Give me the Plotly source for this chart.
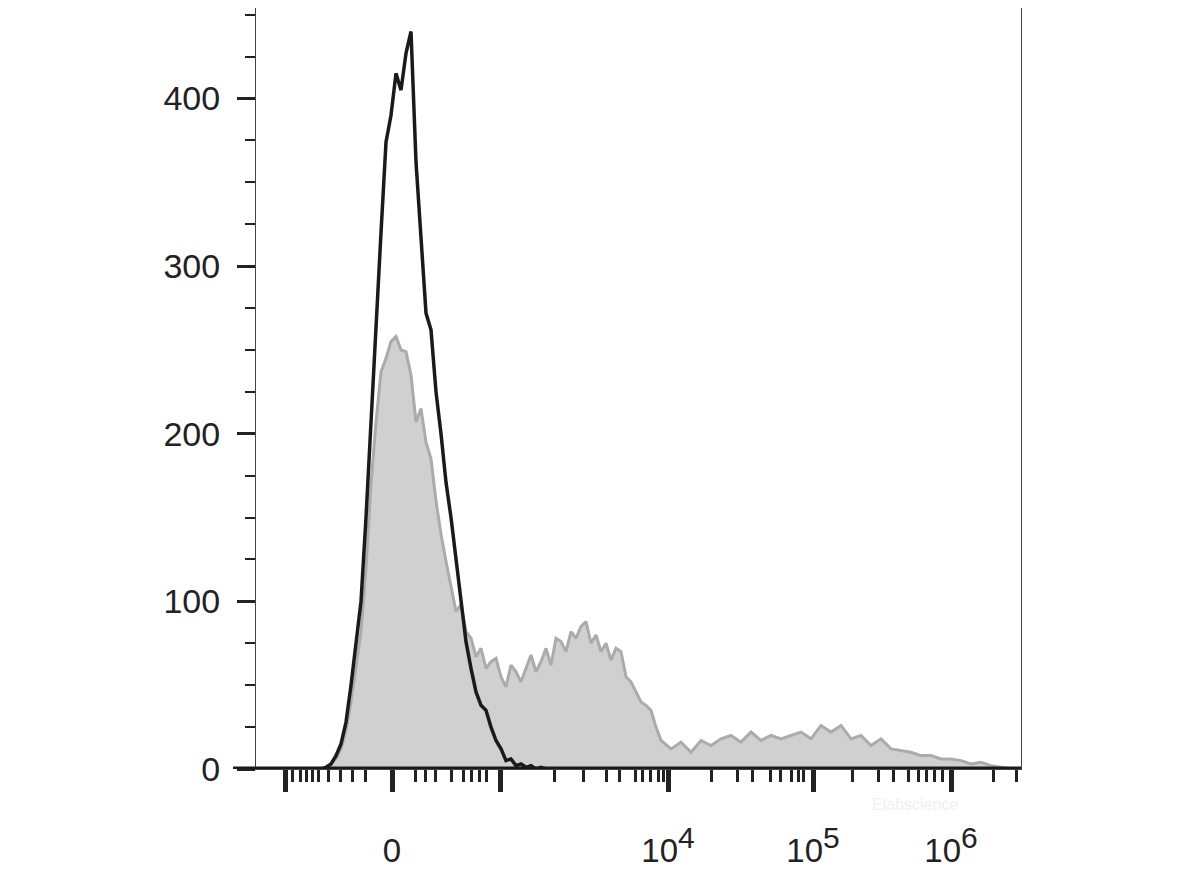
import plotly.graph_objects as go

# channel positions (display scale) and counts
black_x = list(range(320, 550, 5))
black_y = [0, 1, 3, 8, 15, 28, 50, 75, 100, 150, 210, 260, 320, 374, 390, 415, 405, 427, 440,
           362, 320, 272, 262, 225, 200, 171, 150, 124, 100, 76, 60, 46, 38, 35, 25, 17, 12,
           5, 6, 2, 3, 1, 2, 0, 1, 0]

gray_x = list(range(320, 665, 5)) + list(range(670, 1020, 10))
gray_y = [0, 1, 3, 6, 12, 23, 40, 60, 82, 120, 170, 207, 237, 245, 255, 258, 250, 249, 235,
          207, 215, 195, 185, 160, 140, 124, 110, 94, 98, 82, 78, 67, 72, 60, 64, 66, 55, 49,
          62, 58, 52, 60, 68, 58, 64, 72, 62, 78, 76, 70, 82, 78, 85, 88, 75, 80, 70, 75, 65,
          72, 70, 55, 52, 46, 40, 38, 35, 25, 17,
          12, 16, 10, 17, 14, 18, 20, 16, 22, 17, 20, 18, 20, 22, 18, 26, 22, 26, 18, 20, 14,
          18, 12, 11, 10, 8, 8, 6, 6, 5, 3, 4, 2, 1, 0]

major_x = [284, 391, 499, 667, 812, 950]
sup = "<sup><span style='font-size:30px'>{}</span></sup>"
major_lbl = ["", "0", "", "10" + sup.format(4), "10" + sup.format(5), "10" + sup.format(6)]
minor_z = [120, 135, 148, 160, 172, 190, 215, 238, 262, 360, 380, 400, 432, 455, 470, 485, 500,
           632, 690, 735, 760, 790, 805, 820, 835, 845, 940, 990, 1020, 1055, 1075, 1095, 1110,
           1120, 1215, 1265, 1295, 1325, 1345, 1360, 1375, 1390, 1490, 1535]
minor_x = [230 + z / 1.955 for z in minor_z]

fig = go.Figure()
fig.add_trace(go.Scatter(x=gray_x, y=gray_y, mode="lines", fill="tozeroy",
                         fillcolor="#d0d0d0", line=dict(color="#ababab", width=3)))
fig.add_trace(go.Scatter(x=black_x, y=black_y, mode="lines",
                         line=dict(color="#1a1a1a", width=3.5)))
fig.add_trace(go.Scatter(x=[300], y=[0], xaxis="x2", mode="markers",
                         marker=dict(opacity=0), hoverinfo="skip"))

fig.update_layout(
    width=1178, height=883, showlegend=False,
    paper_bgcolor="white", plot_bgcolor="white",
    margin=dict(l=248, r=165, t=0, b=122),
    font=dict(family="Arial, Liberation Sans", size=30, color="#222"),
    xaxis=dict(range=[255, 1020], tickvals=major_x, ticktext=major_lbl,
               ticks="outside", ticklen=22, tickwidth=5, tickcolor="#222",
               tickfont=dict(size=33), ticklabelstandoff=30,
               showgrid=False, zeroline=False,
               showline=True, linecolor="#444", linewidth=1, mirror=True),
    xaxis2=dict(range=[255, 1020], overlaying="x", side="bottom", anchor="y",
                tickvals=minor_x, ticks="outside", ticklen=12, tickwidth=3,
                tickcolor="#222", showticklabels=False, showgrid=False, zeroline=False),
    yaxis=dict(range=[0, 454], tickvals=[0, 100, 200, 300, 400],
               ticks="outside", ticklen=18, tickwidth=3, tickcolor="#222",
               tickfont=dict(size=34), ticklabelstandoff=10,
               minor=dict(dtick=25, ticks="outside", ticklen=10, tickwidth=2, tickcolor="#222"),
               showgrid=False, zeroline=False,
               showline=True, linecolor="#444", linewidth=1, mirror=True),
)
fig.add_shape(type="line", xref="paper", yref="y", x0=-0.03, x1=1, y0=0, y1=0,
              line=dict(color="#1a1a1a", width=5))
fig.add_annotation(text="Elabscience", xref="paper", yref="paper", x=0.92,
                   y=-0.06, showarrow=False, font=dict(size=16, color="#f0f0f0"))

fig.write_html("out.html")
